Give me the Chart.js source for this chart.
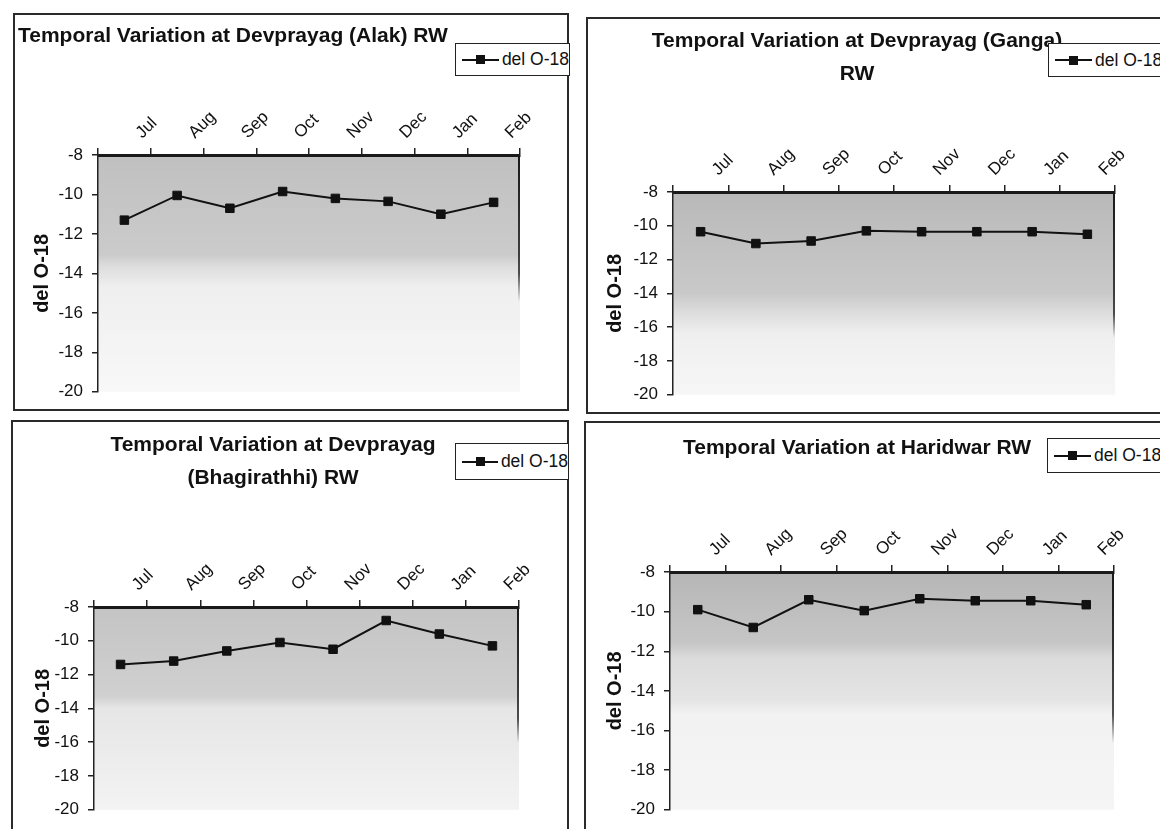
<!DOCTYPE html>
<html>
<head>
<meta charset="utf-8">
<script src="https://cdn.jsdelivr.net/npm/chart.js@4.4.1/dist/chart.umd.min.js"></script>
<style>
  html, body { margin: 0; padding: 0; background: #fff; }
  body { position: relative; width: 1160px; height: 829px; overflow: hidden; }
  .frame { position: absolute; box-sizing: border-box; border: 2px solid #2a2a2a; }
  .panel { position: absolute; }
  .panel canvas { display: block; }
  .legend {
    position: absolute; box-sizing: border-box; background: #fff;
    border: 1.5px solid #222; display: flex; align-items: center; padding-left: 6px;
    font-family: 'Liberation Sans', Arial, sans-serif;
    font-size: 17.5px; color: #111; white-space: nowrap; z-index: 2;
  }
  .legend .sample { position: relative; width: 37px; height: 2px; margin-right: 3px; }
  .legend .sample i { position: absolute; left: 14px; top: -3.5px; width: 9px; height: 9px; }
</style>
</head>
<body>
<script>
// months on the category axis
const months = ['Jul', 'Aug', 'Sep', 'Oct', 'Nov', 'Dec', 'Jan', 'Feb'];

// del O-18
const alakValues = [-11.3, -10.05, -10.7, -9.85, -10.2, -10.35, -11.0, -10.4];
const gangaValues = [-10.35, -11.05, -10.9, -10.3, -10.35, -10.35, -10.35, -10.5];
const bhagirathiValues = [-11.4, -11.2, -10.6, -10.1, -10.5, -8.8, -9.6, -10.3];
const haridwarValues = [-9.9, -10.8, -9.4, -9.95, -9.35, -9.45, -9.45, -9.65];

const seriesLabel = 'del O-18';
const yTitle = 'del O-18';
const yMin = -20;
const yMax = -8;
const yStep = 2;

const bodyFont = "'Liberation Sans', Arial, sans-serif";
const ink = '#111';
const TITLE_SIZE = 21;
const TITLE_LH = 1.6;

// page layout of the four scanned panels (frame, plot area, legend box)
const panels = [
  {
    title: 'Temporal Variation at Devprayag (Alak) RW', align: 'start', values: alakValues,
    frame: [13, 13, 556, 398], canvas: [13, 13, 556, 398],
    padLeft: 5, plot: [85, 142, 507, 380], titleTop: 6.7, yTitlePad: 12,
    legend: [455, 43, 115, 33],
    shade: [[0, '#c0c0c0'], [0.42, '#cbcbcb'], [0.47, '#dddddd'], [0.56, '#efefef'], [1, '#f8f8f8']], edgeFade: 0.5
  },
  {
    title: ['Temporal Variation at Devprayag (Ganga)', 'RW'], align: 'center', values: gangaValues,
    frame: [586, 17, 620, 397], canvas: [586, 17, 542, 397],
    padLeft: 13, plot: [87, 175, 529, 381], titleTop: 7.2, yTitlePad: 4,
    legend: [1048, 43, 140, 34],
    shade: [[0, '#b9b9b9'], [0.5, '#c9c9c9'], [0.6, '#dedede'], [0.7, '#efefef'], [1, '#f6f6f6']], edgeFade: 0.6
  },
  {
    title: ['Temporal Variation at Devprayag', '(Bhagirathhi) RW'], align: 'center', values: bhagirathiValues,
    frame: [11, 420, 558, 412], canvas: [11, 420, 558, 409],
    padLeft: 16, plot: [83, 187, 508, 390], titleTop: 8.2, yTitlePad: 4,
    legend: [455, 443, 114, 37],
    shade: [[0, '#c4c4c4'], [0.44, '#d0d0d0'], [0.5, '#e6e6e6'], [1, '#f3f3f3']], edgeFade: 0.55
  },
  {
    title: 'Temporal Variation at Haridwar RW', align: 'center', values: haridwarValues,
    frame: [584, 421, 620, 420], canvas: [584, 421, 546, 408],
    padLeft: 16, plot: [86, 151, 530, 392], titleTop: 10.2, yTitlePad: 3,
    legend: [1047, 438, 140, 35],
    shade: [[0, '#b6b6b6'], [0.3, '#c6c6c6'], [0.36, '#dbdbdb'], [0.54, '#e5e5e5'], [0.6, '#f2f2f2'], [1, '#f5f5f5']], edgeFade: 0.6
  }
];

// grey plot fill and the darker right edge of the plot area
const plotBackdrop = {
  id: 'plotBackdrop',
  beforeDraw(chart, args, opts) {
    const { ctx, chartArea: { left, top, right, bottom } } = chart;
    const fill = ctx.createLinearGradient(0, top, 0, bottom);
    opts.stops.forEach(([at, c]) => fill.addColorStop(at, c));
    ctx.save();
    ctx.fillStyle = fill;
    ctx.fillRect(left, top, right - left, bottom - top);
    const edge = ctx.createLinearGradient(0, top, 0, bottom);
    edge.addColorStop(0, 'rgba(25,25,25,1)');
    edge.addColorStop(opts.edgeFade, 'rgba(25,25,25,0.75)');
    edge.addColorStop(Math.min(1, opts.edgeFade + 0.12), 'rgba(25,25,25,0)');
    ctx.strokeStyle = edge;
    ctx.lineWidth = 2;
    ctx.beginPath();
    ctx.moveTo(right - 1, top);
    ctx.lineTo(right - 1, bottom);
    ctx.stroke();
    ctx.restore();
  }
};

const px = (el, [l, t, w, h]) => {
  Object.assign(el.style, { left: l + 'px', top: t + 'px', width: w + 'px', height: h + 'px' });
  return el;
};

panels.forEach(p => {
  const frame = px(document.createElement('div'), p.frame);
  frame.className = 'frame';
  document.body.appendChild(frame);

  const wrap = px(document.createElement('div'), p.canvas);
  wrap.className = 'panel';
  const canvas = document.createElement('canvas');
  canvas.width = p.canvas[2];
  canvas.height = p.canvas[3];
  wrap.appendChild(canvas);
  document.body.appendChild(wrap);

  const [plotL, plotT, plotR, plotB] = p.plot;
  const lines = Array.isArray(p.title) ? p.title.length : 1;
  const titleBlock = p.titleTop + lines * TITLE_SIZE * TITLE_LH;

  const chart = new Chart(canvas, {
    type: 'line',
    data: {
      labels: months,
      datasets: [{
        label: seriesLabel,
        data: p.values,
        borderColor: ink,
        backgroundColor: ink,
        borderWidth: 2,
        tension: 0,
        pointStyle: 'rect',
        pointRadius: 6,
        pointBackgroundColor: ink,
        pointBorderColor: ink,
        pointBorderWidth: 1
      }]
    },
    options: {
      responsive: false,
      animation: false,
      devicePixelRatio: 1,
      layout: { padding: { left: p.padLeft, top: 0, right: p.canvas[2] - plotR, bottom: p.canvas[3] - plotB } },
      plugins: {
        legend: { display: false },
        tooltip: { enabled: false },
        title: {
          display: true,
          text: p.title,
          align: p.align,
          color: ink,
          font: { family: bodyFont, size: TITLE_SIZE, weight: 'bold', lineHeight: TITLE_LH },
          padding: { top: p.titleTop, bottom: 0 }
        },
        plotBackdrop: { stops: p.shade, edgeFade: p.edgeFade }
      },
      scales: {
        x: {
          position: 'top',
          offset: true,
          grid: { offset: true, drawOnChartArea: false, tickLength: 7, color: '#222', lineWidth: 1.5 },
          border: { color: '#1a1a1a', width: 3 },
          ticks: {
            autoSkip: false, minRotation: 45, maxRotation: 45,
            labelOffset: 29, padding: 5, color: ink,
            font: { family: bodyFont, size: 17 }
          },
          afterFit: s => { s.height = plotT - titleBlock; }
        },
        y: {
          min: yMin, max: yMax,
          ticks: { stepSize: yStep, padding: 9, color: ink, font: { family: bodyFont, size: 17 } },
          grid: { drawOnChartArea: false, tickLength: 6, color: '#222', lineWidth: 1.5 },
          border: { color: '#222', width: 1.5 },
          title: {
            display: true, text: yTitle, color: ink,
            font: { family: bodyFont, size: 20, weight: 'bold' },
            padding: { top: p.yTitlePad, bottom: 0 }
          },
          afterFit: s => { s.width = plotL - p.padLeft; }
        }
      }
    },
    plugins: [plotBackdrop]
  });

  // html legend built from the dataset, boxed like the original
  const ds = chart.data.datasets[0];
  const legend = px(document.createElement('div'), p.legend);
  legend.className = 'legend';
  const sample = document.createElement('span');
  sample.className = 'sample';
  sample.style.background = ds.borderColor;
  const mark = document.createElement('i');
  mark.style.background = ds.pointBackgroundColor;
  sample.appendChild(mark);
  legend.append(sample, document.createTextNode(ds.label));
  document.body.appendChild(legend);
});
</script>
</body>
</html>
